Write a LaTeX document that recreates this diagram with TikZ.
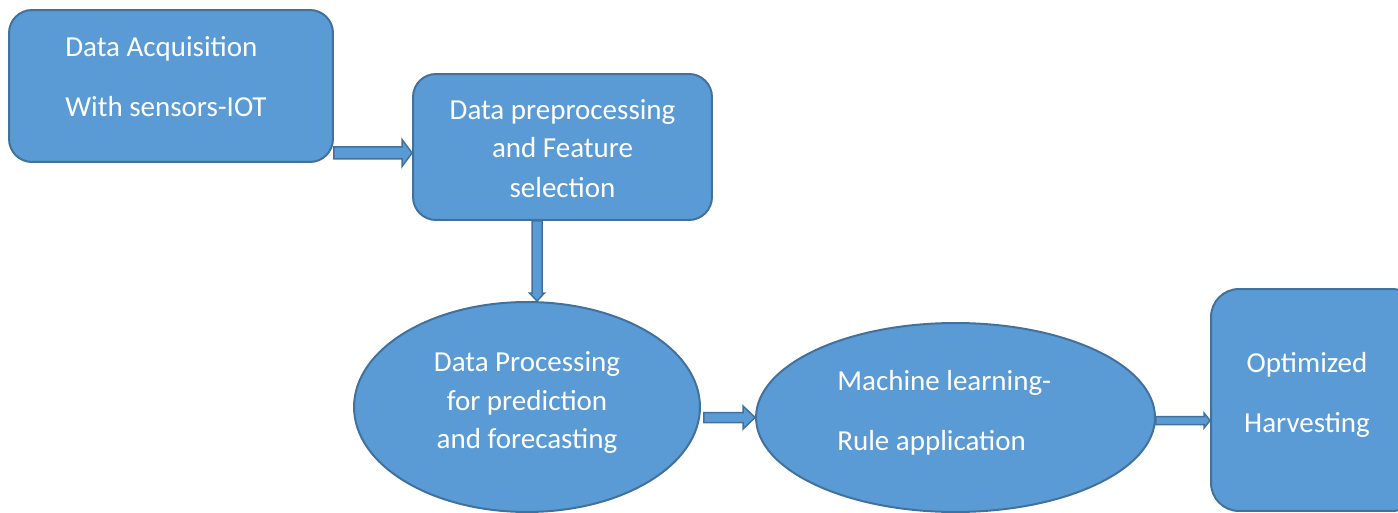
\documentclass[tikz,border=0pt]{standalone}
\usepackage{fontspec}
\setmainfont{Carlito}
\usetikzlibrary{calc,shapes.geometric}
\definecolor{boxfill}{HTML}{5B9BD5}
\definecolor{boxline}{HTML}{41719C}
\tikzset{
  px/.style={x=0.02cm,y=-0.02cm},
  shp/.style={draw=boxline,fill=boxfill,line width=0.04cm,inner sep=0pt},
  rbox/.style={shp,rectangle,rounded corners=0.46cm},
  ebox/.style={shp,ellipse},
  txt/.style={text=white,font=\fontsize{16.5}{20}\selectfont,inner sep=0pt},
  barrow/.style={draw=boxline,fill=boxfill,line width=0.03cm,line join=miter}
}
\newcommand\harrowpath[5]{%
  \draw[barrow] ($(#1)+(0,#3)$) -- ($(#2)+(-#5,#3)$) -- ($(#2)+(-#5,#4)$) -- (#2)
    -- ($(#2)+(-#5,-#4)$) -- ($(#2)+(-#5,-#3)$) -- ($(#1)+(0,-#3)$) -- cycle;}
\newcommand\varrowpath[5]{%
  \draw[barrow] ($(#1)+(#3,0)$) -- ($(#2)+(#3,-#5)$) -- ($(#2)+(#4,-#5)$) -- (#2)
    -- ($(#2)+(-#4,-#5)$) -- ($(#2)+(-#3,-#5)$) -- ($(#1)+(-#3,0)$) -- cycle;}
\begin{document}
\begin{tikzpicture}[px]
\useasboundingbox (0,0) rectangle (1398,513);
\clip (0,0) rectangle (1398,513);
% shapes
\node[rbox,minimum width=6.48cm,minimum height=3.04cm] (A) at (171,86) {};
\node[rbox,minimum width=5.98cm,minimum height=2.92cm] (B) at (562.5,147) {};
\node[ebox,minimum width=6.92cm,minimum height=4.2cm] (C) at (527,407) {};
\node[ebox,minimum width=7.98cm,minimum height=3.78cm] (D) at (955.5,417.5) {};
\node[rbox,rounded corners=0.56cm,minimum width=4.18cm,minimum height=4.44cm] (E) at (1315.5,400) {};
% texts
\node[txt,anchor=base west] (A1) at (65,57) {Data Acquisition};
\node[txt,anchor=base west] (A2) at (65,117) {With sensors-IOT};
\node[txt,anchor=base] (B1) at (562.5,120) {Data preprocessing};
\node[txt,anchor=base] (B2) at (562.5,158) {and Feature};
\node[txt,anchor=base] (B3) at (562.5,197) {selection};
\node[txt,anchor=base] (C1) at (527,371) {Data Processing};
\node[txt,anchor=base] (C2) at (527,410) {for prediction};
\node[txt,anchor=base] (C3) at (527,448) {and forecasting};
\node[txt,anchor=base west] (D1) at (837,390) {Machine learning-};
\node[txt,anchor=base west] (D2) at (837,450) {Rule application};
\node[txt,anchor=base] (E1) at (1307,372) {Optimized};
\node[txt,anchor=base] (E2) at (1307,432) {Harvesting};
% connectors
\coordinate (ab-s) at ($(A.east |- B.west)+(0,6)$);
\coordinate (ab-e) at ($(B.west)+(0,6)$);
\harrowpath{ab-s}{ab-e}{6}{13.5}{10}
\coordinate (bc-s) at ($(B.south)+(-25.5,0)$);
\coordinate (bc-e) at (C.north -| bc-s);
\varrowpath{bc-s}{bc-e}{5}{7.5}{8}
\coordinate (cd-s) at ($(C.east |- D.west)+(3,0)$);
\coordinate (cd-e) at (D.west);
\harrowpath{cd-s}{cd-e}{5}{11.5}{12}
\coordinate (de-s) at ($(D.east)+(0,3)$);
\coordinate (de-e) at (E.west |- de-s);
\harrowpath{de-s}{de-e}{4}{7.5}{6}
\end{tikzpicture}
\end{document}
